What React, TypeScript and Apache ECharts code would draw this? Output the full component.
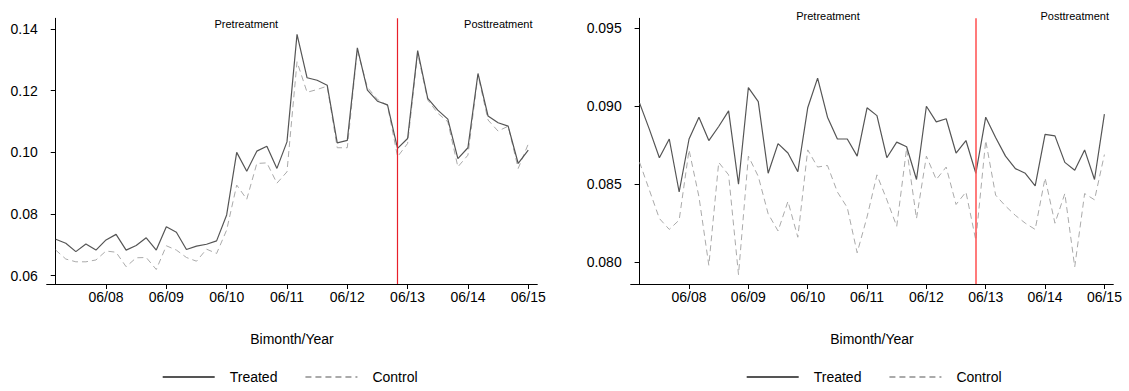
import React, { useEffect, useRef } from "react";
import * as echarts from "echarts";

const periods = [
  "01/08","02/08","03/08","04/08","05/08","06/08",
  "01/09","02/09","03/09","04/09","05/09","06/09",
  "01/10","02/10","03/10","04/10","05/10","06/10",
  "01/11","02/11","03/11","04/11","05/11","06/11",
  "01/12","02/12","03/12","04/12","05/12","06/12",
  "01/13","02/13","03/13","04/13","05/13","06/13",
  "01/14","02/14","03/14","04/14","05/14","06/14",
  "01/15","02/15","03/15","04/15","05/15","06/15",
];
const xTickLabels = ["06/08","06/09","06/10","06/11","06/12","06/13","06/14","06/15"];
const treatmentStart = "05/13";

const treatedA = [
  0.0718,0.0705,0.0678,0.0703,0.0683,0.0716,0.0734,0.0683,0.0698,0.0723,
  0.0683,0.0759,0.0741,0.0685,0.0696,0.0702,0.0713,0.0797,0.1000,0.0939,
  0.1004,0.1020,0.0948,0.1034,0.1383,0.1242,0.1234,0.1218,0.1031,0.1039,
  0.1339,0.1202,0.1166,0.1154,0.1013,0.1045,0.1330,0.1175,0.1137,0.1108,
  0.0980,0.1015,0.1256,0.1118,0.1096,0.1085,0.0964,0.1007,
];
const controlA = [
  0.0683,0.0654,0.0645,0.0645,0.0651,0.0680,0.0676,0.0629,0.0658,0.0659,
  0.0620,0.0697,0.0683,0.0659,0.0647,0.0686,0.0672,0.0748,0.0894,0.0848,
  0.0964,0.0966,0.0900,0.0937,0.1294,0.1195,0.1204,0.1215,0.1015,0.1015,
  0.1332,0.1211,0.1172,0.1152,0.0986,0.1029,0.1321,0.1170,0.1127,0.1099,
  0.0953,0.0991,0.1251,0.1105,0.1069,0.1085,0.0948,0.1027,
];
const treatedB = [
  0.0902,0.0885,0.0867,0.0879,0.0845,0.0879,0.0893,0.0878,0.0887,0.0897,
  0.0850,0.0912,0.0903,0.0857,0.0876,0.0870,0.0858,0.0899,0.0918,0.0893,
  0.0879,0.0879,0.0868,0.0899,0.0894,0.0867,0.0877,0.0874,0.0853,0.0900,
  0.0890,0.0892,0.0870,0.0878,0.0857,0.0893,0.0880,0.0868,0.0860,0.0857,
  0.0849,0.0882,0.0881,0.0864,0.0859,0.0872,0.0853,0.0895,
];
const controlB = [
  0.0864,0.0846,0.0828,0.0821,0.0827,0.0872,0.0842,0.0798,0.0864,0.0856,
  0.0792,0.0868,0.0855,0.0831,0.0820,0.0839,0.0816,0.0872,0.0861,0.0862,
  0.0845,0.0835,0.0806,0.0829,0.0856,0.0840,0.0823,0.0873,0.0828,0.0868,
  0.0853,0.0861,0.0837,0.0845,0.0814,0.0878,0.0843,0.0836,0.0830,0.0825,
  0.0821,0.0854,0.0825,0.0844,0.0797,0.0844,0.0840,0.0869,
];
const yTicksA = [0.06, 0.08, 0.10, 0.12, 0.14];
const yTicksB = [0.080, 0.085, 0.090, 0.095];

const FONT = "'Liberation Sans', Arial, Helvetica, sans-serif";

export default function App() {
  const ref = useRef<HTMLDivElement>(null);
  useEffect(() => {
    if (!ref.current) return;
    const chart = echarts.init(ref.current, undefined, { renderer: "svg" });
    const xTickIdx = xTickLabels.map((l) => periods.indexOf(l));
    const treatIdx = periods.indexOf(treatmentStart);
    const pairs = (arr: number[]) => arr.map((v, i) => [i, v]);

    const xAxisBase = (gridIndex: number) => ({
      type: "value",
      gridIndex,
      min: -0.9,
      max: periods.length - 1 + 0.9,
      axisLine: { show: true, onZero: false, lineStyle: { color: "#000", width: 1 } },
      axisTick: { show: true, length: 5, customValues: xTickIdx, lineStyle: { color: "#000" } },
      axisLabel: {
        customValues: xTickIdx,
        formatter: (v: number) => periods[Math.round(v)],
        fontSize: 14,
        fontFamily: FONT,
        color: "#000",
        margin: 6,
      },
      splitLine: { show: false },
    });
    const yAxisBase = (gridIndex: number, min: number, max: number, ticks: number[], dec: number) => ({
      type: "value",
      gridIndex,
      min,
      max,
      axisLine: { show: true, lineStyle: { color: "#000", width: 1 } },
      axisTick: { show: true, length: 5, customValues: ticks, lineStyle: { color: "#000" } },
      axisLabel: {
        customValues: ticks,
        formatter: (v: number) => v.toFixed(dec),
        fontSize: 14,
        fontFamily: FONT,
        color: "#000",
        margin: 9,
      },
      splitLine: { show: false },
    });
    const treatedStyle = { color: "#555555", width: 1.2, type: "solid" };
    const controlStyle = { color: "#aaaaaa", width: 1, type: [6, 4] };
    const redLine = (gridIndex: number, color: string, width: number) => ({
      name: "treatment",
      type: "line",
      xAxisIndex: gridIndex,
      yAxisIndex: gridIndex,
      data: [],
      silent: true,
      z: 4,
      markLine: {
        silent: true,
        symbol: ["none", "none"],
        label: { show: false },
        itemStyle: { color },
        lineStyle: { color, width, type: "solid", opacity: 1 },
        emphasis: { disabled: true },
        data: [{ xAxis: treatIdx, lineStyle: { color, width, type: "solid" } }],
      },
    });
    const legendBase = (left: number) => ({
      left,
      top: 370,
      padding: 0,
      itemWidth: 52,
      itemHeight: 14,
      itemGap: 27,
      data: ["Treated", "Control"],
      itemStyle: { opacity: 0 },
      textStyle: { fontSize: 14, fontFamily: FONT, color: "#000", padding: [0, 0, 0, 10] },
    });
    const txt = (x: number, y: number, text: string, size: number) => ({
      type: "text",
      x,
      y,
      style: { text, fontSize: size, fontFamily: FONT, fill: "#000", textAlign: "center", textVerticalAlign: "alphabetic" },
    });

    chart.setOption({
      animation: false,
      backgroundColor: "#fff",
      grid: [
        { left: 46.7, top: 18.3, width: 490.6, height: 265.7 },
        { left: 630.7, top: 18.3, width: 482.6, height: 265.7 },
      ],
      xAxis: [xAxisBase(0), xAxisBase(1)],
      yAxis: [
        yAxisBase(0, 0.0573, 0.1435, yTicksA, 2),
        yAxisBase(1, 0.0786, 0.09564, yTicksB, 3),
      ],
      legend: [legendBase(161.7), legendBase(745.7)],
      series: [
        { name: "Control", type: "line", xAxisIndex: 0, yAxisIndex: 0, data: pairs(controlA), symbol: "none", lineStyle: controlStyle, itemStyle: { color: "#aaaaaa" }, z: 2 },
        { name: "Treated", type: "line", xAxisIndex: 0, yAxisIndex: 0, data: pairs(treatedA), symbol: "none", lineStyle: treatedStyle, itemStyle: { color: "#555555" }, z: 3 },
        { name: "Control", type: "line", xAxisIndex: 1, yAxisIndex: 1, data: pairs(controlB), symbol: "none", lineStyle: controlStyle, itemStyle: { color: "#aaaaaa" }, z: 2 },
        { name: "Treated", type: "line", xAxisIndex: 1, yAxisIndex: 1, data: pairs(treatedB), symbol: "none", lineStyle: treatedStyle, itemStyle: { color: "#555555" }, z: 3 },
        redLine(0, "#e8202a", 1.2),
        redLine(1, "#ff5a5a", 1.6),
      ],
      graphic: [
        txt(246.3, 18.3, "Pretreatment", 11),
        txt(498.3, 18.3, "Posttreatment", 11),
        txt(828, 10, "Pretreatment", 11),
        txt(1074.7, 10, "Posttreatment", 11),
        txt(292, 332, "Bimonth/Year", 14),
        txt(872, 332, "Bimonth/Year", 14),
      ],
    });
    return () => chart.dispose();
  }, []);
  return (
    <div
      ref={ref}
      style={{ position: "absolute", left: 0, top: 0, width: 1129, height: 391 }}
    />
  );
}
